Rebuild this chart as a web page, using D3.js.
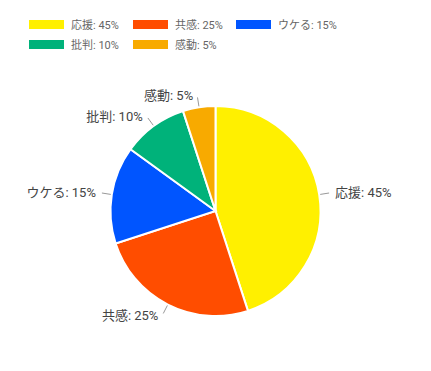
<!DOCTYPE html>
<html>
<head>
<meta charset="utf-8">
<script src="https://cdn.jsdelivr.net/npm/d3@7"></script>
<style>
    body { margin: 0; background: #fff; }
    text { font-family: Roboto, "Noto Sans CJK JP", sans-serif; }
</style>
</head>
<body>
<div id="chart"></div>
<script>
const categories = ["応援", "共感", "ウケる", "批判", "感動"]
const values = [45, 25, 15, 10, 5]
const colors = ["#fff000", "#ff4d00", "#0055ff", "#00b27a", "#f8aa00"]

const width = 431
const height = 371
const cx = 215.5
const cy = 211
const radius = 105

const data = categories.map((c, i) => ({name: c, value: values[i], color: colors[i]}))
const label = (d) => `${d.name}: ${d.value}%`

const svg = d3.create("svg")
    .attr("width", width)
    .attr("height", height)

// legend
const legendPos = [[29, 20], [133, 20], [236, 20], [29, 40], [133, 40]]
const legend = svg.append("g")
    .selectAll("g")
    .data(data)
    .join("g")
    .attr("transform", (d, i) => `translate(${legendPos[i][0]}, ${legendPos[i][1]})`)
legend.append("rect")
    .attr("width", 35)
    .attr("height", 9)
    .attr("fill", (d) => d.color)
legend.append("text")
    .attr("x", 42)
    .attr("y", 8.5)
    .attr("font-size", 11)
    .attr("fill", "#666")
    .text(label)

// pie
const pie = d3.pie().value((d) => d.value).sort(null)
const arcs = pie(data)
const arc = d3.arc().innerRadius(0).outerRadius(radius)

const g = svg.append("g").attr("transform", `translate(${cx}, ${cy})`)

g.selectAll("path")
    .data(arcs)
    .join("path")
    .attr("d", arc)
    .attr("fill", (d) => d.data.color)
    .attr("stroke", "#fff")
    .attr("stroke-width", 2)

const mid = (d) => (d.startAngle + d.endAngle) / 2
const pt = (a, r) => [Math.sin(a) * r, -Math.cos(a) * r]
const right = (d) => mid(d) < Math.PI

g.selectAll("line")
    .data(arcs)
    .join("line")
    .attr("x1", (d) => pt(mid(d), radius + 1)[0])
    .attr("y1", (d) => pt(mid(d), radius + 1)[1])
    .attr("x2", (d) => pt(mid(d), radius + 10)[0])
    .attr("y2", (d) => pt(mid(d), radius + 10)[1])
    .attr("stroke", "#999")
    .attr("stroke-width", 1)

g.selectAll("text")
    .data(arcs)
    .join("text")
    .attr("x", (d) => pt(mid(d), radius + 12)[0] + (right(d) ? 4 : -4))
    .attr("y", (d) => pt(mid(d), radius + 12)[1])
    .attr("dy", "0.35em")
    .attr("text-anchor", (d) => (right(d) ? "start" : "end"))
    .attr("font-size", 13)
    .attr("fill", "#444")
    .text((d) => label(d.data))

document.getElementById("chart").appendChild(svg.node())
</script>
</body>
</html>
